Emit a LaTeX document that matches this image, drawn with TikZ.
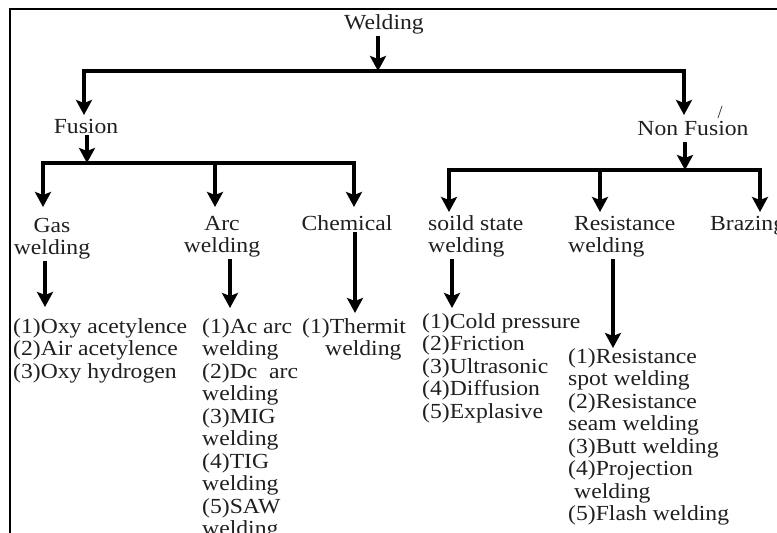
\documentclass[tikz,border=0pt]{standalone}
\usepackage{fontspec}
\setmainfont{Liberation Serif}[FakeStretch=1.1]
\usetikzlibrary{arrows.meta}
\tikzset{
  lbl/.style={inner sep=2pt, align=left, text=black!88, font=\fontsize{21.5}{22.5}\selectfont},
  arr/.style={line width=3.1pt, -{Stealth[length=15pt,width=16pt,inset=3pt]}},
}
\begin{document}
\begin{tikzpicture}[x=1pt,y=-1pt]
\useasboundingbox (0,0) rectangle (777,533);
\clip (0,0) rectangle (777,533);
% frame
\draw[line width=1.8pt] (10,540) -- (10,9) -- (790,9);

% nodes (base anchor of a multi-line node = baseline of its last line)
\node[lbl, anchor=base] (weld) at (384,29) {Welding};
\node[lbl, anchor=base] (fus) at (86,133) {Fusion};
\node[lbl, anchor=base] (nf) at (693,135) {Non Fusion};

\node[lbl, anchor=base, align=center] (gas) at (52,254.5) {Gas\\welding};
\node[lbl, anchor=base, align=center] (arc) at (222,252.5) {Arc\\welding};
\node[lbl, anchor=base] (chem) at (347,230) {Chemical};

\node[lbl, anchor=base west] (sol) at (426,252.5) {soild state\\welding};
\node[lbl, anchor=base west] (res) at (566,252.5) {\hspace*{6pt}Resistance\\welding};
\node[lbl, anchor=base west] (braz) at (708,230) {Brazing};

\node[lbl, anchor=base west] (gasl) at (11,378) {(1)Oxy acetylence\\(2)Air acetylence\\(3)Oxy hydrogen};
\node[lbl, anchor=base west] (arcl) at (200,535.5) {(1)Ac arc\\welding\\(2)Dc\ \ arc\\welding\\(3)MIG\\welding\\(4)TIG\\welding\\(5)SAW\\welding};
\node[lbl, anchor=base west] (cheml) at (300,355.5) {(1)Thermit\\\hspace*{23pt}welding};
\node[lbl, anchor=base west] (soll) at (420,418) {(1)Cold pressure\\(2)Friction\\(3)Ultrasonic\\(4)Diffusion\\(5)Explasive};
\node[lbl, anchor=base west] (resl) at (566,520.5) {(1)Resistance\\spot welding\\(2)Resistance\\seam welding\\(3)Butt welding\\(4)Projection\\\hspace*{6pt}welding\\(5)Flash welding};

% junctions and arrow tips
\coordinate (j0) at (378,71);
\coordinate (tfus) at (84,115);
\coordinate (tnf) at (684,115);
\coordinate (jf) at (87,163);
\coordinate (tgas) at (43,207);
\coordinate (tarc) at (215,207);
\coordinate (tchem) at (354,207);
\coordinate (jn) at (685,170);
\coordinate (tsol) at (449,212);
\coordinate (tres) at (600,212);
\coordinate (tbraz) at (760,212);
\coordinate (tgasl) at (45,307);
\coordinate (tarcl) at (230,308);
\coordinate (tcheml) at (355,313);
\coordinate (tsoll) at (452,308);
\coordinate (tresl) at (613,348);

% connectors
\draw[arr] (weld.south -| j0) -- (j0);
\draw[arr] (j0) -| (tfus);
\draw[arr] (j0) -| (tnf);

\draw[arr] (fus.south -| jf) -- (jf);
\draw[arr] (jf) -| (tgas);
\draw[arr] (jf) -| (tchem);
\draw[arr] (jf -| tarc) -- (tarc);

\draw[arr] ([yshift=-5pt]nf.south -| jn) -- (jn);
\draw[arr] (jn) -| (tsol);
\draw[arr] (jn) -| (tbraz);
\draw[arr] (jn -| tres) -- (tres);

\draw[arr] (gas.south -| tgasl) -- (tgasl);
\draw[arr] (arc.south -| tarcl) -- (tarcl);
\draw[arr] (chem.south -| tcheml) -- (tcheml);
\draw[arr] (sol.south -| tsoll) -- (tsoll);
\draw[arr] (res.south -| tresl) -- (tresl);

% stray mark
\draw[line width=0.9pt, black!70] (718,118) -- (722,106);
\end{tikzpicture}
\end{document}
